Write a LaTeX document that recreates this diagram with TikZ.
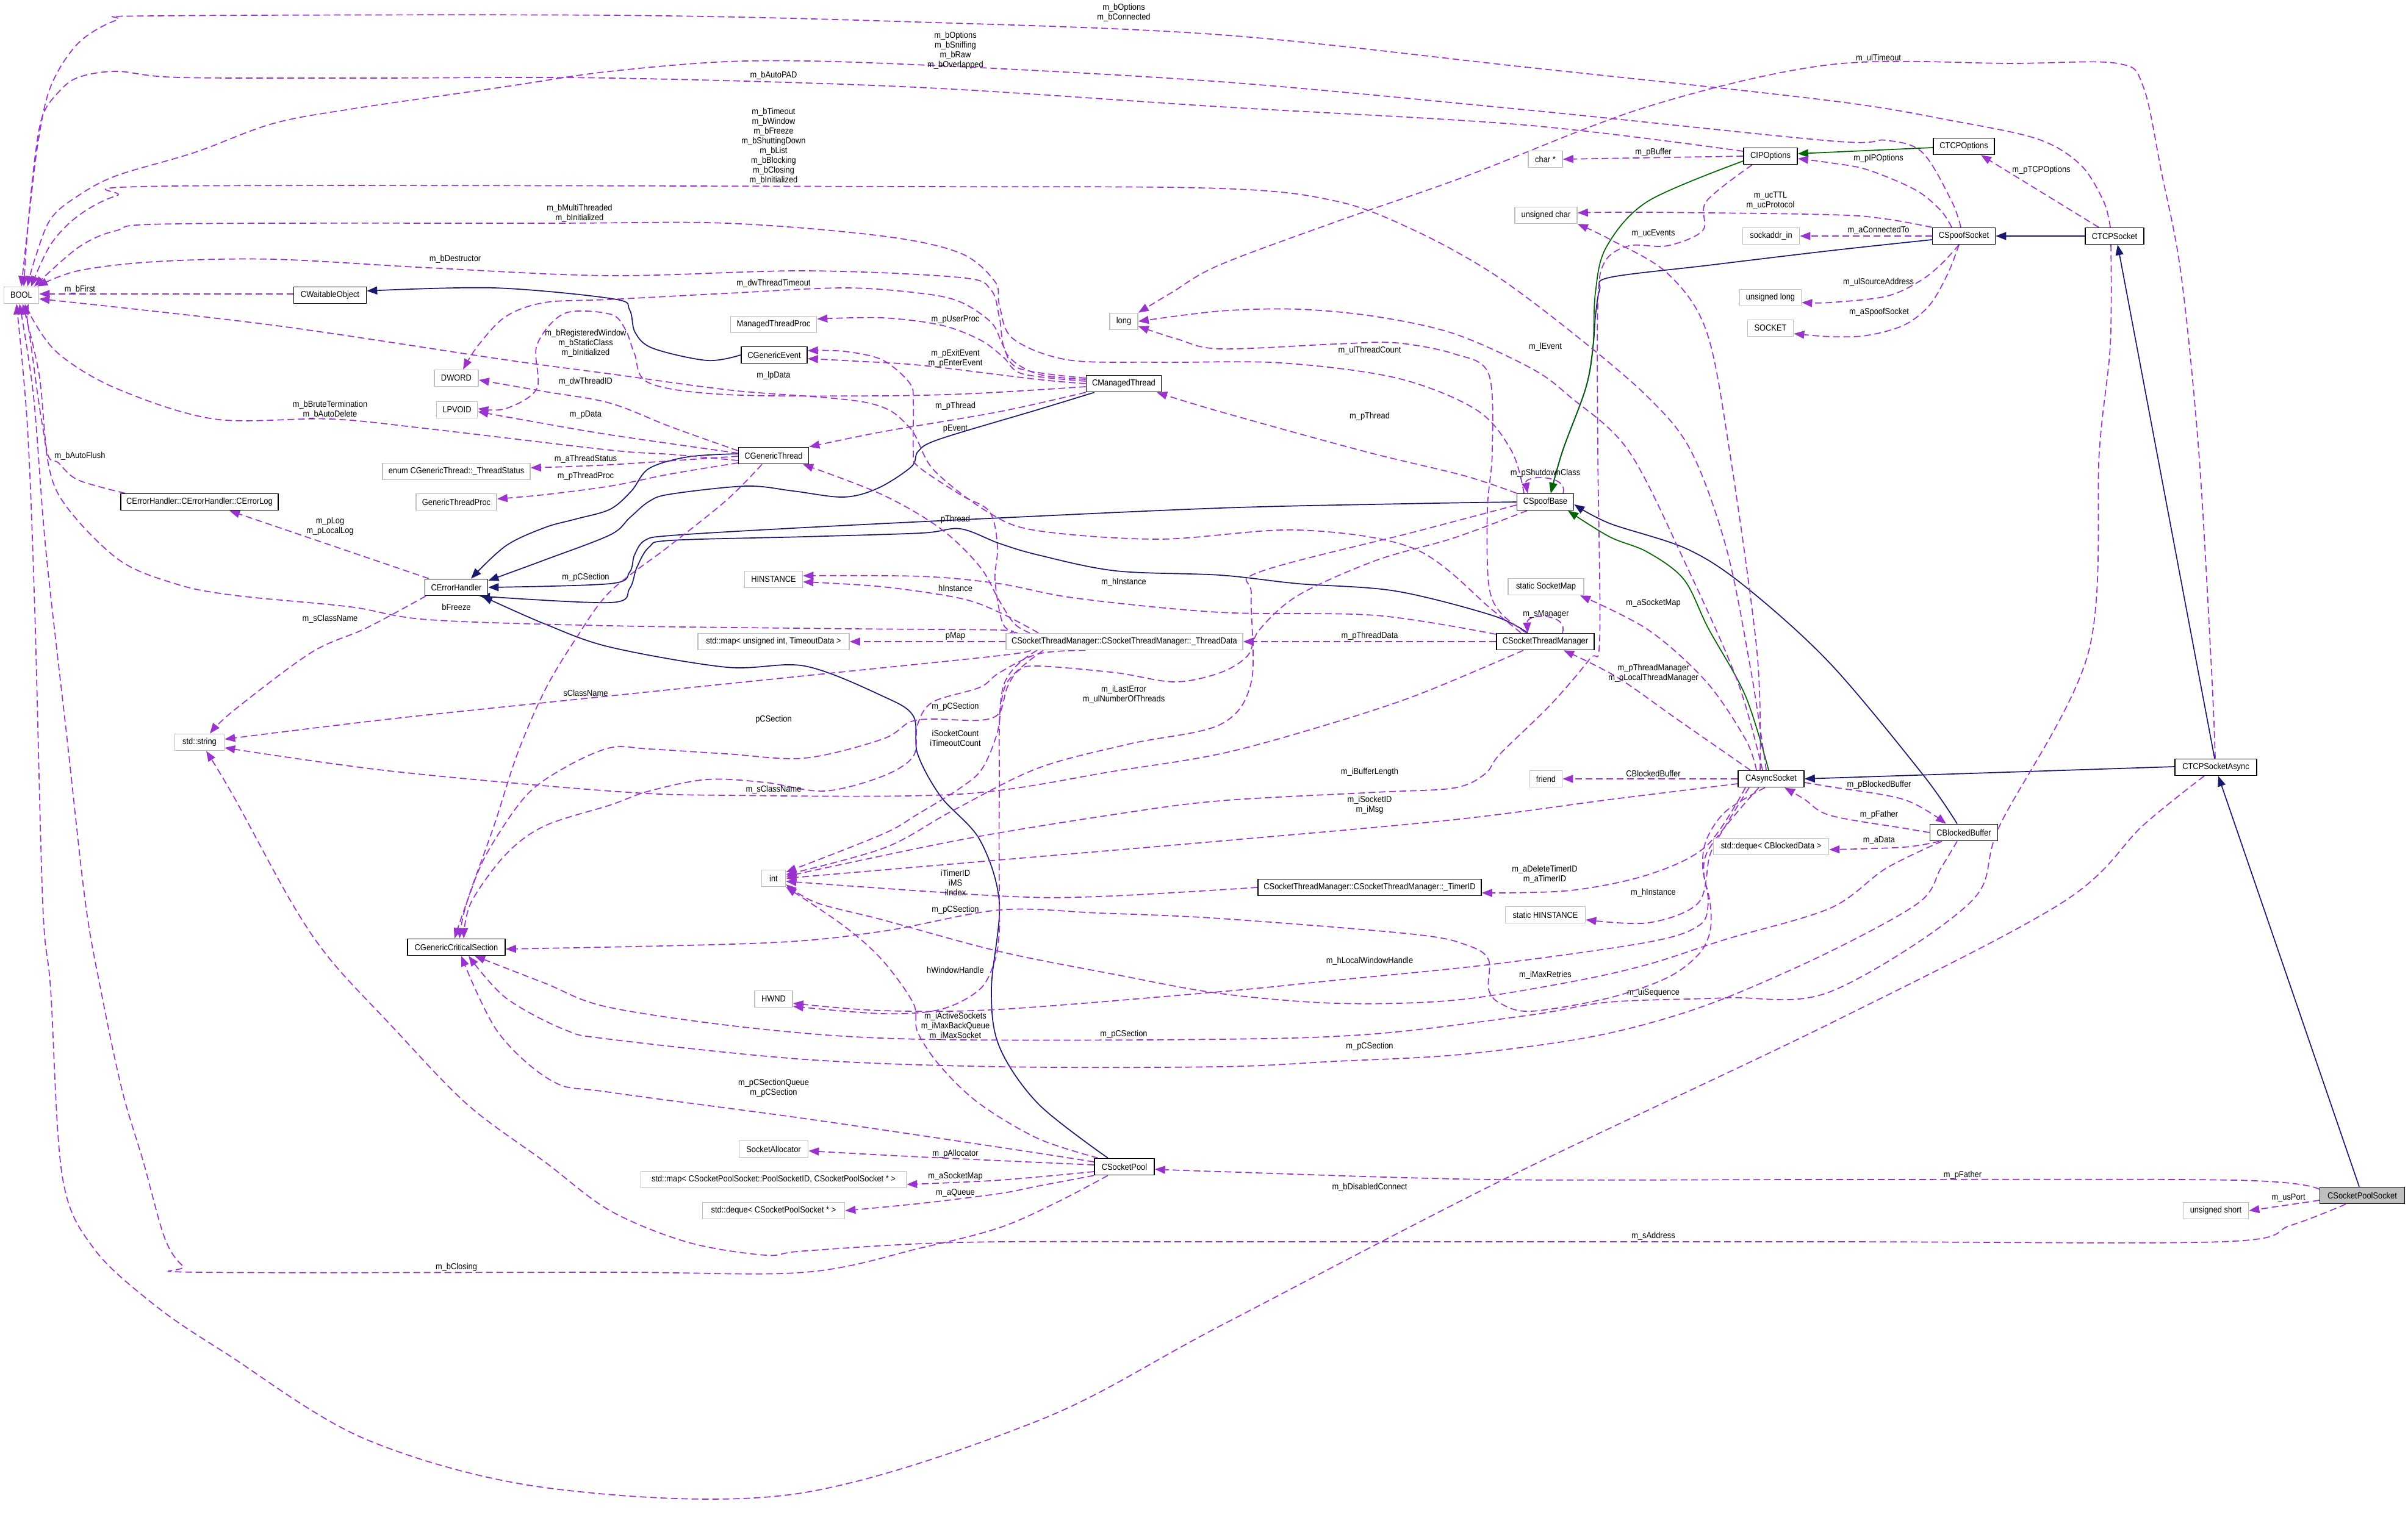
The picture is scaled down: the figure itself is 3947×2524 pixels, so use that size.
\documentclass[tikz,border=0pt]{standalone}
\usepackage{fontspec}
\setmainfont{Liberation Sans}[FakeStretch=0.9]
\usetikzlibrary{arrows.meta,backgrounds}
\definecolor{orch}{HTML}{9A32CD}
\definecolor{mnavy}{HTML}{191970}
\definecolor{dgreen}{HTML}{006400}
\definecolor{gr75}{HTML}{BFBFBF}
\newcommand\dfont{\fontsize{14.3}{16}\selectfont}
\tikzset{
  dbox/.style={draw, line width=1.6pt, minimum height=27pt, inner sep=0pt, font=\dfont, fill=white, anchor=center},
  clsbox/.style={dbox, draw=black},
  extbox/.style={dbox, draw=gr75},
  mytip/.style={-{Triangle[length=17pt,width=13pt]}},
  dep/.style={draw=orch, line width=1.7pt, dash pattern=on 11pt off 6pt, mytip},
  inh/.style={draw=mnavy, line width=1.7pt, mytip},
  pinh/.style={draw=dgreen, line width=1.7pt, mytip},
  elbl/.style={font=\dfont, align=center, inner sep=0pt},
  smp/.style={smooth, tension=0.55}
}
\begin{document}
\begin{tikzpicture}[x=1pt,y=-1pt]
\useasboundingbox (0,0) rectangle (3947,2524);
% ---------- nodes ----------
\node[extbox, minimum width=57pt] (BOOL) at (35,484) {BOOL};
\node[clsbox, minimum width=119pt] (CWO) at (541,484) {CWaitableObject};
\node[extbox, minimum width=72pt] (DWORD) at (748,620) {DWORD};
\node[extbox, minimum width=67pt] (LPVOID) at (749,672) {LPVOID};
\node[extbox, minimum width=242pt] (enumTS) at (748,773) {enum CGenericThread::\_ThreadStatus};
\node[extbox, minimum width=132pt] (GTP) at (748,823) {GenericThreadProc};
\node[clsbox, minimum width=258pt] (ErrLog) at (327,823) {CErrorHandler::CErrorHandler::CErrorLog};
\node[clsbox, minimum width=103pt] (ErrH) at (748,963) {CErrorHandler};
\node[extbox, minimum width=81pt] (string) at (327,1217) {std::string};
\node[clsbox, minimum width=160pt] (CGCS) at (748,1553) {CGenericCriticalSection};
\node[extbox, minimum width=141pt] (MTP) at (1268,532) {ManagedThreadProc};
\node[clsbox, minimum width=108pt] (CGE) at (1269,582) {CGenericEvent};
\node[clsbox, minimum width=115pt] (CGT) at (1268,747) {CGenericThread};
\node[extbox, minimum width=95pt] (HINST) at (1268,950) {HINSTANCE};
\node[extbox, minimum width=248pt] (mapTO) at (1268,1052) {std::map< unsigned int, TimeoutData >};
\node[extbox, minimum width=39pt] (int) at (1268,1440) {int};
\node[extbox, minimum width=62pt] (HWND) at (1268,1638) {HWND};
\node[extbox, minimum width=113pt] (SockAlloc) at (1268,1884) {SocketAllocator};
\node[extbox, minimum width=435pt] (mapPS) at (1268,1934) {std::map< CSocketPoolSocket::PoolSocketID, CSocketPoolSocket * >};
\node[extbox, minimum width=233pt] (dequePS) at (1268,1985) {std::deque< CSocketPoolSocket * >};
\node[extbox, minimum width=46pt] (long) at (1842,527) {long};
\node[clsbox, minimum width=123pt] (CMT) at (1842,629) {CManagedThread};
\node[extbox, minimum width=388pt] (TD) at (1843,1052) {CSocketThreadManager::CSocketThreadManager::\_ThreadData};
\node[clsbox, minimum width=98pt] (CSP) at (1843,1913) {CSocketPool};
\node[extbox, minimum width=56pt] (charp) at (2533,261) {char *};
\node[extbox, minimum width=102pt] (uchar) at (2534,353) {unsigned char};
\node[clsbox, minimum width=93pt] (CSB) at (2533,823) {CSpoofBase};
\node[extbox, minimum width=124pt] (SSM) at (2534,962) {static SocketMap};
\node[clsbox, minimum width=160pt] (CSTM) at (2533,1052) {CSocketThreadManager};
\node[extbox, minimum width=53pt] (friend) at (2534,1277) {friend};
\node[clsbox, minimum width=366pt] (TimerID) at (2245,1455) {CSocketThreadManager::CSocketThreadManager::\_TimerID};
\node[extbox, minimum width=131pt] (SHI) at (2533,1500) {static HINSTANCE};
\node[clsbox, minimum width=88pt] (CIPO) at (2902,256) {CIPOptions};
\node[extbox, minimum width=93pt] (sockaddr) at (2903,387) {sockaddr\_in};
\node[extbox, minimum width=101pt] (ulong) at (2902,488) {unsigned long};
\node[extbox, minimum width=75pt] (SOCKET) at (2902,538) {SOCKET};
\node[clsbox, minimum width=108pt] (CAS) at (2903,1277) {CAsyncSocket};
\node[extbox, minimum width=189pt] (dequeBD) at (2903,1388) {std::deque< CBlockedData >};
\node[clsbox, minimum width=100pt] (CTCPO) at (3219,240) {CTCPOptions};
\node[clsbox, minimum width=103pt] (CSS) at (3219,387) {CSpoofSocket};
\node[clsbox, minimum width=111pt] (CBB) at (3219,1365) {CBlockedBuffer};
\node[clsbox, minimum width=96pt] (CTCPS) at (3466,387) {CTCPSocket};
\node[clsbox, minimum width=134pt] (CTCPSA) at (3632,1258) {CTCPSocketAsync};
\node[extbox, minimum width=107pt] (ushort) at (3632,1985) {unsigned short};
\node[clsbox, minimum width=139pt, fill=gr75] (CSPS) at (3872,1960) {CSocketPoolSocket};
% ---------- labels ----------
\node[elbl] (l1) at (1842,21) {m\_bOptions\\m\_bConnected};
\node[elbl] (l2) at (1566,83) {m\_bOptions\\m\_bSniffing\\m\_bRaw\\m\_bOverlapped};
\node[elbl] (l3) at (1268,124) {m\_bAutoPAD};
\node[elbl] (l4) at (3079,96) {m\_ulTimeout};
\node[elbl] (l5) at (1268,240) {m\_bTimeout\\m\_bWindow\\m\_bFreeze\\m\_bShuttingDown\\m\_bList\\m\_bBlocking\\m\_bClosing\\m\_bInitialized};
\node[elbl] (l6) at (950,350) {m\_bMultiThreaded\\m\_bInitialized};
\node[elbl] (l7) at (746,425) {m\_bDestructor};
\node[elbl] (l8) at (131,475) {m\_bFirst};
\node[elbl] (l9) at (1268,465) {m\_dwThreadTimeout};
\node[elbl] (l10) at (1566,524) {m\_pUserProc};
\node[elbl] (l11) at (1566,588) {m\_pExitEvent\\m\_pEnterEvent};
\node[elbl] (l12) at (1268,616) {m\_lpData};
\node[elbl] (l13) at (960,563) {m\_bRegisteredWindow\\m\_bStaticClass\\m\_bInitialized};
\node[elbl] (l14) at (960,626) {m\_dwThreadID};
\node[elbl] (l15) at (960,680) {m\_pData};
\node[elbl] (l16) at (541,672) {m\_bBruteTermination\\m\_bAutoDelete};
\node[elbl] (l17) at (1566,666) {m\_pThread};
\node[elbl] (l18) at (1566,703) {pEvent};
\node[elbl] (l19) at (2245,683) {m\_pThread};
\node[elbl] (l20) at (2245,575) {m\_ulThreadCount};
\node[elbl] (l21) at (2533,776) {m\_pShutdownClass};
\node[elbl] (l22) at (2533,569) {m\_lEvent};
\node[elbl] (l23) at (2710,383) {m\_ucEvents};
\node[elbl] (l24) at (2710,250) {m\_pBuffer};
\node[elbl] (l25) at (2902,329) {m\_ucTTL\\m\_ucProtocol};
\node[elbl] (l26) at (3079,378) {m\_aConnectedTo};
\node[elbl] (l27) at (3079,463) {m\_ulSourceAddress};
\node[elbl] (l28) at (3080,512) {m\_aSpoofSocket};
\node[elbl] (l29) at (3079,260) {m\_pIPOptions};
\node[elbl] (l30) at (3346,279) {m\_pTCPOptions};
\node[elbl] (l31) at (960,753) {m\_aThreadStatus};
\node[elbl] (l32) at (960,781) {m\_pThreadProc};
\node[elbl] (l33) at (131,748) {m\_bAutoFlush};
\node[elbl] (l34) at (541,863) {m\_pLog\\m\_pLocalLog};
\node[elbl] (l35) at (960,947) {m\_pCSection};
\node[elbl] (l36) at (748,995) {bFreeze};
\node[elbl] (l37) at (541,1015) {m\_sClassName};
\node[elbl] (l38) at (960,1136) {sClassName};
\node[elbl] (l39) at (1566,852) {pThread};
\node[elbl] (l40) at (1566,964) {hInstance};
\node[elbl] (l41) at (1842,955) {m\_hInstance};
\node[elbl] (l42) at (1566,1043) {pMap};
\node[elbl] (l43) at (1566,1159) {m\_pCSection};
\node[elbl] (l44) at (1566,1210) {iSocketCount\\iTimeoutCount};
\node[elbl] (l45) at (1842,1139) {m\_iLastError\\m\_ulNumberOfThreads};
\node[elbl] (l46) at (1268,1180) {pCSection};
\node[elbl] (l47) at (1268,1295) {m\_sClassName};
\node[elbl] (l48) at (1566,1447) {iTimerID\\iMS\\iIndex};
\node[elbl] (l49) at (2245,1043) {m\_pThreadData};
\node[elbl] (l50) at (2534,1007) {m\_sManager};
\node[elbl] (l51) at (2710,989) {m\_aSocketMap};
\node[elbl] (l52) at (2710,1104) {m\_pThreadManager\\m\_pLocalThreadManager};
\node[elbl] (l53) at (2710,1268) {CBlockedBuffer};
\node[elbl] (l54) at (2245,1266) {m\_iBufferLength};
\node[elbl] (l55) at (2245,1320) {m\_iSocketID\\m\_iMsg};
\node[elbl] (l56) at (2532,1434) {m\_aDeleteTimerID\\m\_aTimerID};
\node[elbl] (l57) at (2710,1464) {m\_hInstance};
\node[elbl] (l58) at (3080,1287) {m\_pBlockedBuffer};
\node[elbl] (l59) at (3080,1336) {m\_pFather};
\node[elbl] (l60) at (3080,1378) {m\_aData};
\node[elbl] (l61) at (1566,1492) {m\_pCSection};
\node[elbl] (l62) at (1566,1590) {hWindowHandle};
\node[elbl] (l63) at (1566,1683) {m\_iActiveSockets\\m\_iMaxBackQueue\\m\_iMaxSocket};
\node[elbl] (l64) at (1842,1696) {m\_pCSection};
\node[elbl] (l65) at (1268,1784) {m\_pCSectionQueue\\m\_pCSection};
\node[elbl] (l66) at (1566,1892) {m\_pAllocator};
\node[elbl] (l67) at (1566,1929) {m\_aSocketMap};
\node[elbl] (l68) at (1566,1956) {m\_aQueue};
\node[elbl] (l69) at (748,2078) {m\_bClosing};
\node[elbl] (l70) at (2245,1576) {m\_hLocalWindowHandle};
\node[elbl] (l71) at (2533,1599) {m\_iMaxRetries};
\node[elbl] (l72) at (2710,1628) {m\_uiSequence};
\node[elbl] (l73) at (2245,1716) {m\_pCSection};
\node[elbl] (l74) at (2245,1947) {m\_bDisabledConnect};
\node[elbl] (l75) at (2710,2027) {m\_sAddress};
\node[elbl] (l76) at (3217,1927) {m\_pFather};
\node[elbl] (l77) at (3751,1964) {m\_usPort};
% ---------- edges ----------
\begin{pgfonlayer}{background}
\fill[white] (0,0) rectangle (3947,2524);
% inheritance
\draw[inh] plot[smp] coordinates {(CGE.west) (1159,591) (1070,571) (1041,545) (1032,508) (1005,490) (810,472) ([yshift=7]CWO.east)};
\draw[inh] plot[smp] coordinates {([yshift=3]CGT.west) (1128,749) (1064,768) (1035,805) (1000,835) (944,851) (893,865) (829,895) ([xshift=24]ErrH.north)};
\draw[inh] plot[smp] coordinates {([xshift=-48]CMT.south) (1700,672) (1540,720) (1505,740) (1494,765) (1440,800) (1383,815) (1300,805) (1223,797) (1100,810) (1064,822) (1032,849) (1000,877) (893,918) ([yshift=11]ErrH.east)};
\draw[inh] plot[smp] coordinates {(CSB.west) (2300,826) (2000,833) (1600,851) (1300,866) (1100,878) (1057,886) (1040,910) (1032,938) (1000,957) (ErrH.east)};
\draw[inh] plot[smp] coordinates {([xshift=-29]CSTM.north) (2446,1009) (2287,969) (2128,957) (2000,943) (1829,936) (1702,910) (1638,891) (1574,867) (1510,874) (1319,880) (1100,886) (1064,897) (1044,930) (1032,965) (1000,988) ([xshift=38]ErrH.south)};
\draw[inh] plot[smp] coordinates {([xshift=-27]CSP.north) (1702,1810) (1638,1716) (1625,1622) (1638,1480) (1606,1377) (1542,1306) (1504,1236) (1497,1174) (1446,1141) (1319,1092) (1191,1094) (1000,1061) (893,1023) ([xshift=42]ErrH.south)};
\draw[inh] plot[smp] coordinates {([yshift=-6]CSS.west) (3000,411) (2800,435) (2638,455) (2622,475) (2615,519) (2611,570) (2599,637) (2561,740) ([xshift=9]CSB.north)};
\draw[pinh] plot[smp] coordinates {([yshift=-8]CIPO.west) (2701,330) (2633,405) (2615,480) (2611,570) (2599,637) (2561,740) ([xshift=9]CSB.north)};
\draw[pinh] ([yshift=-2]CTCPO.west) -- ([yshift=4]CIPO.east);
\draw[inh] (CTCPS.west) -- (CSS.east);
\draw[inh] ([xshift=-2]CTCPSA.north) -- ([xshift=5]CTCPS.south);
\draw[inh] ([yshift=1]CTCPSA.west) -- (CAS.east);
\draw[inh] ([xshift=-5]CSPS.north) -- ([xshift=4]CTCPSA.south);
\draw[inh] plot[smp] coordinates {([xshift=-11]CBB.north) (3151,1269) (3000,1088) (2861,962) (2765,900) (2638,858) ([yshift=-4]CSB.east)};
\draw[pinh] plot[smp] coordinates {([xshift=-4]CAS.north) (2861,1141) (2800,1030) (2760,950) (2700,905) (2638,880) ([xshift=37]CSB.south)};
% usage
\draw[dep] ([yshift=2]CWO.west) -- ([yshift=2]BOOL.east);
\draw[dep] plot[smp] coordinates {([xshift=-7]CTCPS.north) (3448,330) (3410,270) (3340,228) (3200,198) (3000,165) (2500,110) (2000,57) (1500,36) (1000,25) (255,26) (191,33) (128,71) (83,142) (62,236) (45,378) (BOOL.north)};
\draw[dep] plot[smp] coordinates {([xshift=-5]CSS.north) (3199,330) (3151,250) (3091,230) (3000,231) (2500,180) (2000,134) (1500,106) (1223,100) (1000,117) (829,142) (574,179) (446,203) (319,250) (191,288) (128,321) (83,359) (57,425) ([xshift=10]BOOL.north)};
\draw[dep] plot[smp] coordinates {([yshift=8]CIPO.west) (2500,205) (2000,175) (1500,143) (1000,128) (600,128) (293,127) (191,117) (128,127) (96,151) (70,189) (57,260) (45,380) ([xshift=4]BOOL.north)};
\draw[dep] plot[smp] coordinates {([xshift=-8]CAS.north) (2870,1100) (2830,900) (2772,740) (2700,650) (2574,543) (2446,448) (2319,378) (2191,330) (2000,309) (1500,306) (287,305) (191,321) (128,354) (83,401) ([xshift=16]BOOL.north)};
\draw[dep] plot[smp] coordinates {([xshift=-35]CSB.north) (2478,740) (2420,672) (2290,620) (2100,595) (1900,594) (1750,590) (1660,555) (1638,500) (1631,462) (1574,415) (1446,387) (1191,366) (900,366) (287,367) (191,378) (128,406) ([xshift=21]BOOL.north)};
\draw[dep] plot[smp] coordinates {([yshift=7]CMT.west) (1700,613) (1650,580) (1638,520) (1624,475) (1574,455) (1319,444) (1000,452) (702,439) (446,425) (255,429) (128,444) ([xshift=26]BOOL.north)};
\draw[dep] plot[smp] coordinates {([yshift=-8]CGT.west) (1100,745) (1000,738) (702,703) (542,687) (351,687) (191,637) (96,580) (51,519) ([xshift=12]BOOL.south)};
\draw[dep] plot[smp] coordinates {([xshift=-40]CSTM.north) (2446,1000) (2319,900) (2128,869) (1900,884) (1700,870) (1620,840) (1530,770) (1490,700) (1420,660) (1200,640) (1000,613) (829,590) (446,533) ([yshift=-6]BOOL.east)};
\draw[dep] plot[smp] coordinates {([xshift=-188]TD.north) (1638,1033) (1400,1031) (1000,1026) (702,1016) (574,995) (383,976) (287,957) (191,915) (96,811) (70,700) (50,560) ([xshift=6]BOOL.south)};
\draw[dep] plot[smp] coordinates {([xshift=-122]ErrLog.north) (128,787) (96,759) (77,740) (64,613) ([xshift=2]BOOL.south)};
\draw[dep] plot[smp] coordinates {([xshift=-27]CSP.south) (1733,1971) (1638,2013) (1510,2046) (1319,2086) (1000,2086) (330,2086) (300,2076) (270,2030) (235,1905) (200,1787) (165,1622) (140,1480) (110,1212) (75,900) (55,650) ([xshift=-3]BOOL.south)};
\draw[dep] plot[smp] coordinates {([xshift=-19]CTCPSA.south) (3513,1353) (3380,1480) (3000,1678) (2466,1933) (2000,2174) (1700,2330) (1300,2450) (900,2440) (600,2360) (372,2220) (255,2141) (153,2046) (102,1928) (83,1622) (70,1480) (57,1000) (45,700) ([xshift=-8]BOOL.south)};
\draw[dep] plot[smp] coordinates {([xshift=-1]CTCPSA.north) (3625,1100) (3604,740) (3575,450) (3543,283) (3513,142) (3471,104) (3300,104) (3000,106) (2700,175) (2400,290) (2200,360) (2000,434) (1920,480) (long.north east)};
\draw[dep] plot[smp] coordinates {([xshift=-14]CAS.north) (2848,1117) (2765,929) (2670,740) (2574,651) (2510,604) (2383,547) (2255,519) (2128,507) (2000,510) (long.east)};
\draw[dep] plot[smp] coordinates {([xshift=-31]CSTM.north) (2459,1004) (2440,957) (2438,834) (2446,740) (2440,613) (2383,580) (2287,562) (2191,564) (2000,572) (1930,556) ([yshift=-8]long.east)};
\draw[dep] plot[smp] coordinates {(CSB.north west) (2400,780) (2236,740) (2000,675) ([xshift=54]CMT.south)};
\draw[dep] ([xshift=29]CSB.north) .. controls (2572,778) and (2498,778) .. ([xshift=-29]CSB.north);
\draw[dep] ([xshift=28]CSTM.north) .. controls (2572,1005) and (2502,1005) .. ([xshift=-29]CSTM.north);
\draw[dep] plot[smp] coordinates {([yshift=4]CMT.west) (1676,613) (1644,585) (1606,557) (1542,533) (1446,521) ([yshift=9]MTP.east)};
\draw[dep] plot[smp] coordinates {(CMT.west) (1700,622) (1510,599) (1400,592) ([yshift=-6]CGE.east)};
\draw[dep] plot[smp] coordinates {([xshift=-175]TD.north) (1644,1023) (1631,952) (1635,896) (1622,839) (1574,811) (1504,764) (1497,740) (1497,660) (1491,628) (1446,590) (1383,576) ([yshift=7]CGE.east)};
\draw[dep] plot[smp] coordinates {([yshift=-5]CMT.west) (1600,645) (1446,649) (1191,647) (1064,628) (1040,580) (1025,540) (1000,515) (925,514) (880,566) (880,637) (829,670) ([yshift=2]LPVOID.east)};
\draw[dep] plot[smp] coordinates {([yshift=9]CMT.west) (1670,604) (1644,566) (1625,529) (1574,495) (1510,481) (1383,472) (1191,481) (1000,491) (893,496) (829,519) (784,566) ([xshift=11]DWORD.north)};
\draw[dep] plot[smp] coordinates {(CMT.south west) (1638,675) (1446,708) (CGT.north east)};
\draw[dep] plot[smp] coordinates {([yshift=8]CGT.west) (1100,700) (1000,661) (893,642) ([yshift=-3]DWORD.east)};
\draw[dep] plot[smp] coordinates {([yshift=4]CGT.west) (1000,713) (861,689) ([yshift=-3]LPVOID.east)};
\draw[dep] plot[smp] coordinates {([yshift=-1]CGT.west) (1000,762) ([yshift=6]enumTS.east)};
\draw[dep] plot[smp] coordinates {([yshift=-12]CGT.west) (1100,777) (1000,797) (893,811) ([yshift=5]GTP.east)};
\draw[dep] plot[smp] coordinates {([xshift=-19]CGT.south) (1191,820) (1096,896) (1000,970) (944,1047) (893,1132) (848,1236) (810,1353) (765,1480) ([xshift=5]CGCS.north)};
\draw[dep] ([xshift=-45]ErrH.north) -- ([xshift=49]ErrLog.south);
\draw[dep] plot[smp] coordinates {([xshift=-50]ErrH.south) (600,1030) (510,1070) (383,1165) ([xshift=17]string.north)};
\draw[dep] plot[smp] coordinates {([xshift=-154]TD.south) (1638,1075) (1319,1108) (1000,1141) (638,1179) ([yshift=5]string.east)};
\draw[dep] plot[smp] coordinates {([xshift=-36]CSTM.south) (2319,1141) (2159,1193) (2000,1236) (1829,1264) (1574,1302) (1191,1304) (1000,1297) (638,1264) ([yshift=-9]string.east)};
\draw[dep] plot[smp] coordinates {([xshift=-27]CSPS.south) (3755,2009) (3640,2036) (3000,2036) (2000,2036) (1574,2037) (1319,2051) (1255,2058) (1128,2037) (1000,1985) (893,1905) (765,1810) (638,1678) (542,1574) (478,1480) (383,1306) ([xshift=11]string.south)};
\draw[dep] plot[smp] coordinates {([xshift=-141]TD.north) (1638,1004) (1574,981) (1446,962) ([yshift=-4]HINST.east)};
\draw[dep] plot[smp] coordinates {([yshift=12]CSTM.west) (2255,1009) (2000,1004) (1765,981) (1638,957) (1510,945) ([yshift=6]HINST.east)};
\draw[dep] (TD.west) -- (mapTO.east);
\draw[dep] (CSTM.west) -- (TD.east);
\draw[dep] plot[smp] coordinates {([xshift=-24]CAS.north) (2861,1212) (2797,1118) (2702,1033) ([xshift=56]SSM.south)};
\draw[dep] plot[smp] coordinates {([xshift=-34]CAS.north) (2750,1180) (2650,1110) ([xshift=30]CSTM.south)};
\draw[dep] (CAS.west) -- (friend.east);
\draw[dep] plot[smp] coordinates {([xshift=-42]CAS.south) (2797,1387) (2702,1434) (2574,1460) ([yshift=-9]TimerID.east)};
\draw[dep] plot[smp] coordinates {([xshift=-36]CAS.south) (2829,1353) (2803,1401) (2784,1480) (2702,1513) ([yshift=-8]SHI.east)};
\draw[dep] plot[smp] coordinates {(CBB.west) (3121,1358) (3000,1337) (2957,1310) ([xshift=22]CAS.south)};
\draw[dep] plot[smp] coordinates {([yshift=-6]CAS.east) (3000,1290) (3121,1311) ([xshift=-29]CBB.north)};
\draw[dep] plot[smp] coordinates {([xshift=-40]CBB.south) (3121,1389) ([yshift=-5]dequeBD.east)};
\draw[dep] plot[smp] coordinates {([xshift=-11]CBB.south) (3181,1424) (3145,1480) (3000,1560) (2829,1636) (2702,1678) (2574,1706) (2383,1730) (2191,1740) (2000,1749) (1638,1749) (1319,1737) (1000,1704) (925,1688) (829,1636) ([xshift=20]CGCS.south)};
\draw[dep] plot[smp] coordinates {([yshift=8]CSP.west) (1638,1881) (1319,1834) (1000,1791) (906,1773) (816,1692) ([xshift=8]CGCS.south)};
\draw[dep] plot[smp] coordinates {([xshift=-6]CTCPS.south) (3459,566) (3441,740) (3423,1070) (3278,1353) (3229,1480) (3000,1626) (2829,1636) (2638,1643) (2510,1664) (2255,1695) (2000,1704) (1510,1704) (1255,1688) (1000,1652) (893,1612) ([xshift=30]CGCS.south)};
\draw[dep] plot[smp] coordinates {([xshift=-10]CAS.south) (2829,1330) (2797,1377) (2791,1424) (2803,1480) (2803,1527) (2784,1565) (2733,1603) (2638,1636) (2510,1658) (2459,1645) (2440,1622) (2440,1574) (2408,1551) (2319,1532) (2000,1506) (1800,1497) (1638,1492) (1446,1527) (1255,1546) ([yshift=-3]CGCS.east)};
\draw[dep] plot[smp] coordinates {([xshift=-30]CSB.south) (2383,882) (2255,919) (2128,976) (2064,1033) (2045,1075) (2000,1103) (1925,1118) (1829,1103) (1702,1092) (1670,1099) (1651,1127) (1638,1169) (1606,1181) (1529,1179) (1491,1184) (1446,1212) (1319,1243) (1191,1236) (1064,1228) (1000,1226) (925,1259) (861,1306) (797,1401) (765,1480) ([xshift=-3]CGCS.north)};
\draw[dep] plot[smp] coordinates {([xshift=-64]TD.south) (1702,1072) (1638,1103) (1606,1127) (1529,1151) (1504,1188) (1497,1240) (1446,1273) (1351,1297) (1255,1283) (1159,1278) (1064,1297) (1000,1320) (893,1354) (829,1401) (772,1480) ([xshift=12]CGCS.north)};
\draw[dep] plot[smp] coordinates {([yshift=-5]CSB.west) (2319,872) (2064,938) (2051,976) (2051,1118) (2000,1188) (1850,1220) (1700,1260) (1560,1330) (1450,1390) ([yshift=6]int.east)};
\draw[dep] plot[smp] coordinates {([xshift=-133]TD.south) (1650,1120) (1635,1200) (1610,1260) (1574,1292) (1504,1335) (1446,1368) ([yshift=10]int.east)};
\draw[dep] plot[smp] coordinates {([xshift=-30]CIPO.south) (2797,330) (2791,378) (2733,403) (2670,403) (2630,430) (2619,500) (2619,740) (2622,1047) (2606,1080) (2542,1155) (2459,1236) (2434,1269) (2383,1292) (2255,1299) (2000,1313) (1829,1335) (1574,1377) ([yshift=3]int.east)};
\draw[dep] plot[smp] coordinates {([yshift=-8]CAS.west) (2638,1311) (2383,1344) (2000,1379) (1638,1410) (int.east)};
\draw[dep] plot[smp] coordinates {(TimerID.west) (1800,1470) (1638,1469) ([yshift=-5]int.east)};
\draw[dep] plot[smp] coordinates {([xshift=-36]CBB.south) (3091,1424) (3000,1489) (2829,1540) (2702,1581) (2574,1610) (2383,1640) (2191,1645) (2000,1629) (1829,1598) (1638,1560) (1446,1508) (1338,1480) ([yshift=-10]int.east)};
\draw[dep] plot[smp] coordinates {([xshift=-43]CSP.north) (1702,1867) (1606,1810) (1542,1749) (1504,1692) (1497,1645) (1446,1574) (1383,1518) (int.south east)};
\draw[dep] plot[smp] coordinates {([xshift=-20]CAS.south) (2797,1400) (2800,1480) (2784,1518) (2700,1545) (2446,1581) (2191,1607) (2000,1626) (1638,1655) (1446,1657) ([yshift=-7]HWND.east)};
\draw[dep] plot[smp] coordinates {([xshift=-143]TD.south) (1644,1127) (1638,1306) (1638,1480) (1638,1527) (1631,1574) (1606,1622) (1542,1655) (1446,1662) ([yshift=-12]HWND.east)};
\draw[dep] plot[smp] coordinates {([yshift=3]CSP.west) (1510,1897) ([yshift=-3]SockAlloc.east)};
\draw[dep] plot[smp] coordinates {([yshift=-8]CSP.west) (1638,1935) ([yshift=-8]mapPS.east)};
\draw[dep] plot[smp] coordinates {(CSP.south west) (1700,1945) (1638,1957) (1510,1973) (dequePS.east)};
\draw[dep] plot[smp] coordinates {([yshift=10]CSPS.west) (3664,1935) (3000,1934) (2446,1934) (2000,1921) ([yshift=-4]CSP.east)};
\draw[dep] ([yshift=-8]CSPS.west) -- (ushort.east);
\draw[dep] plot[smp] coordinates {(CSS.north west) (3091,359) (3000,352) (2700,348) ([yshift=4]uchar.east)};
\draw[dep] (CSS.west) -- (sockaddr.east);
\draw[dep] plot[smp] coordinates {([xshift=-8]CSS.south) (3181,434) (3145,462) (3091,486) (3000,496) ([yshift=-8]ulong.east)};
\draw[dep] plot[smp] coordinates {([xshift=-8]CSS.south) (3193,448) (3163,500) (3121,533) (3060,550) (3000,552) ([yshift=-9]SOCKET.east)};
\draw[dep] plot[smp] coordinates {([xshift=-20]CSS.north) (3181,345) (3139,311) (3060,278) (3000,267) ([yshift=-4]CIPO.east)};
\draw[dep] ([xshift=-26]CTCPS.north) -- ([xshift=28]CTCPO.south);
\draw[dep] (CIPO.west) -- (charp.east);
\draw[dep] plot[smp] coordinates {([xshift=-18]CAS.north) (2880,1070) (2835,740) (2797,543) (2733,448) (2638,392) (uchar.south east)};
\draw[dep] plot[smp] coordinates {([xshift=-155]TD.north) (1663,1023) (1638,985) (1606,929) (1542,867) (1446,811) ([xshift=48]CGT.south)};
\end{pgfonlayer}
\end{tikzpicture}
\end{document}
